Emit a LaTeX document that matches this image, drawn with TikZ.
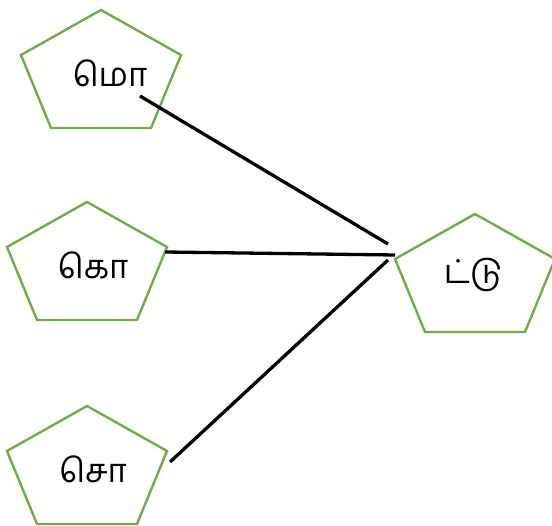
\documentclass[tikz,border=0pt]{standalone}
\usepackage{fontspec}
\newfontfamily\tamilfont[Script=Tamil]{Hind Madurai}
\definecolor{pentgreen}{HTML}{70AD47}
\tikzset{
  pent/.style={draw=pentgreen, line width=2.4pt, line join=miter},
  lbl/.style={inner sep=0pt, font=\tamilfont\fontsize{33}{40}\selectfont},
  link/.style={draw=black, line width=3.3pt}
}
\newcommand{\pentagonat}[2]{%
  \path[pent] (#1,#2) -- ++(80,45) -- ++(-30,73) -- ++(-100,0) -- ++(-30,-73) -- cycle;}
\begin{document}
\begin{tikzpicture}[x=1pt,y=-1pt]
\useasboundingbox (0,0) rectangle (552,526);
\pentagonat{101}{10}
\pentagonat{87}{202}
\pentagonat{87}{406}
\pentagonat{475}{214}
\node[lbl] (mo) at (110,73) {மொ};
\node[lbl] (ko) at (93,265) {கொ};
\node[lbl] (so) at (93,469) {சொ};
\node[lbl] (ttu) at (473,275) {ட்டு};
\coordinate (a1) at (140,96);
\coordinate (a2) at (165,252);
\coordinate (a3) at (170,462);
\coordinate (b1) at (388,244);
\coordinate (b2) at (395,255);
\coordinate (b3) at (388,260);
\draw[link] (a1) -- (b1);
\draw[link] (a2) -- (b2);
\draw[link] (a3) -- (b3);
\end{tikzpicture}
\end{document}
